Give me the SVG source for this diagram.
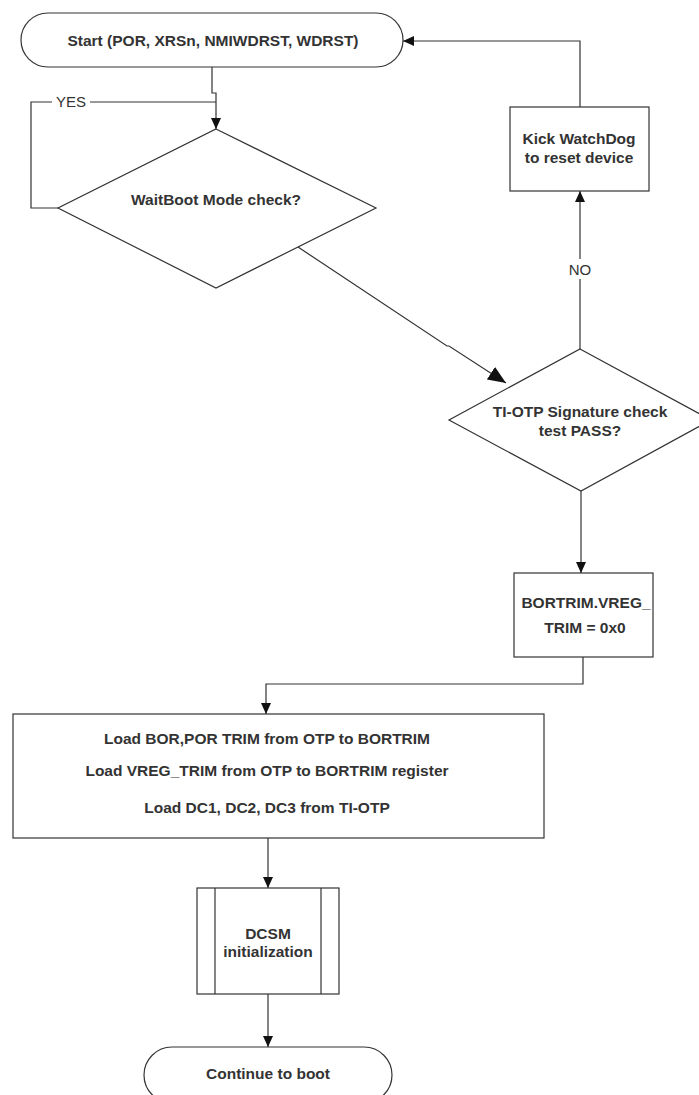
<svg xmlns="http://www.w3.org/2000/svg" width="699" height="1095" viewBox="0 0 699 1095">
  <style>
    .shape { fill: #ffffff; stroke: #333333; stroke-width: 1.2; }
    .conn { fill: none; stroke: #333333; stroke-width: 1.2; }
    .t { font-family: "Liberation Sans", Arial, sans-serif; font-size: 15.5px; font-weight: bold; fill: #333333; text-anchor: middle; }
    .lbl { font-family: "Liberation Sans", Arial, sans-serif; font-size: 15px; fill: #333333; text-anchor: middle; }
  </style>
  <defs>
    <marker id="arr" markerUnits="userSpaceOnUse" markerWidth="11" markerHeight="10" refX="11" refY="5" orient="auto">
      <path d="M0,0 L11,5 L0,10 z" fill="#111111"/>
    </marker>
    <marker id="arrBig" markerUnits="userSpaceOnUse" markerWidth="18" markerHeight="15" refX="18" refY="7.5" orient="auto">
      <path d="M0,0 L18,7.5 L0,15 z" fill="#111111"/>
    </marker>
  </defs>
  <rect width="699" height="1095" fill="#ffffff"/>

  <g id="connectors">
    <!-- start -> waitboot diamond -->
    <polyline class="conn" points="212,67 212,93 216,93 216,129" marker-end="url(#arr)"/>
    <!-- YES loop -->
    <polyline class="conn" points="58,208 31,208 31,102 216,102"/>
    <!-- waitboot -> TI-OTP diamond -->
    <polyline class="conn" points="298,247 447,346 449,346 506,383" marker-end="url(#arrBig)"/>
    <!-- TI-OTP NO -> kick watchdog -->
    <line class="conn" x1="580" y1="349" x2="580" y2="191" marker-end="url(#arr)"/>
    <!-- kick watchdog -> start -->
    <polyline class="conn" points="580,107 580,41 403,41" marker-end="url(#arr)"/>
    <!-- TI-OTP -> BORTRIM -->
    <line class="conn" x1="581" y1="491" x2="581" y2="573" marker-end="url(#arr)"/>
    <!-- BORTRIM -> Load box -->
    <polyline class="conn" points="583,657 583,684 266,684 266,714" marker-end="url(#arr)"/>
    <!-- Load box -> DCSM -->
    <line class="conn" x1="268" y1="838" x2="268" y2="888" marker-end="url(#arr)"/>
    <!-- DCSM -> continue -->
    <line class="conn" x1="268" y1="994" x2="268" y2="1047" marker-end="url(#arr)"/>
    <!-- labels -->
    <rect x="52" y="94" width="38" height="16" fill="#ffffff"/>
    <text class="lbl" x="71" y="107">YES</text>
    <rect x="566" y="259" width="28" height="20" fill="#ffffff"/>
    <text class="lbl" x="580" y="274.5">NO</text>
  </g>

  <g id="start">
    <rect class="shape" x="21" y="13" width="382" height="54" rx="27" ry="27"/>
    <text class="t" x="213" y="46">Start (POR, XRSn, NMIWDRST, WDRST)</text>
  </g>

  <g id="waitboot">
    <polygon class="shape" points="216,129 376,208 216,288 58,208"/>
    <text class="t" x="216" y="205">WaitBoot Mode check?</text>
  </g>

  <g id="kick">
    <rect class="shape" x="510" y="107" width="139" height="84"/>
    <text class="t" x="579" y="144">Kick WatchDog</text>
    <text class="t" x="579" y="163">to reset device</text>
  </g>

  <g id="tiotp">
    <polygon class="shape" points="580,349 711,420 581,491 449,420"/>
    <text class="t" x="580" y="416.5">TI-OTP Signature check</text>
    <text class="t" x="580" y="435.5">test PASS?</text>
  </g>

  <g id="bortrim">
    <rect class="shape" x="514" y="573" width="139" height="84"/>
    <text class="t" x="586" y="607.5">BORTRIM.VREG_</text>
    <text class="t" x="585" y="632.5">TRIM = 0x0</text>
  </g>

  <g id="load">
    <rect class="shape" x="13" y="714" width="531" height="124"/>
    <text class="t" x="267" y="743.5">Load BOR,POR TRIM from OTP to BORTRIM</text>
    <text class="t" x="267" y="775.5">Load VREG_TRIM from OTP to BORTRIM register</text>
    <text class="t" x="267" y="812.5">Load DC1, DC2, DC3 from TI-OTP</text>
  </g>

  <g id="dcsm">
    <rect class="shape" x="197" y="888" width="142" height="106"/>
    <line class="conn" x1="215" y1="888" x2="215" y2="994"/>
    <line class="conn" x1="321" y1="888" x2="321" y2="994"/>
    <text class="t" x="268" y="938.5">DCSM</text>
    <text class="t" x="268" y="957">initialization</text>
  </g>

  <g id="continue">
    <rect class="shape" x="144" y="1047" width="248" height="56" rx="28" ry="28"/>
    <text class="t" x="268" y="1078.5">Continue to boot</text>
  </g>
</svg>
